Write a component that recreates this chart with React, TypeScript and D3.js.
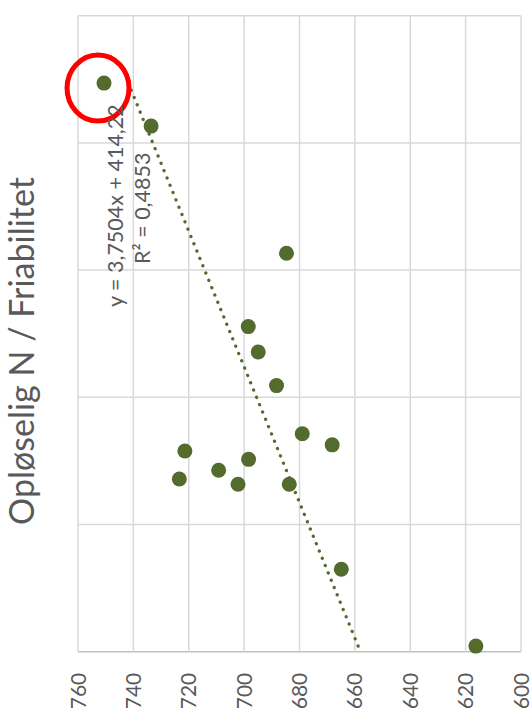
import React from "react";
import * as d3 from "d3";

const xValues = [87.35, 85.66, 80.66, 77.78, 76.78, 75.46, 72.89, 71.79, 72.13, 71.58, 72.56, 73.57, 73.13, 71.58, 68.24, 65.22];
const yValues = [750.6, 733.6, 684.7, 698.5, 694.9, 688.3, 721.4, 723.4, 709.2, 702.2, 698.4, 679.0, 668.2, 683.7, 664.9, 616.3];
const yTicks = [760, 740, 720, 700, 680, 660, 640, 620, 600];
const xGrid = [65, 70, 75, 80, 85, 90];
const slope = 3.7504;
const intercept = 414.22;
const equationLabel = "y = 3,7504x + 414,22";
const r2Label = "R² = 0,4853";
const title = "Opløselig N / Friabilitet";
const highlightIndex = 0;

const W = 532;
const H = 722;
const green = "#546B2E";
const grey = "#595959";
const font = "Lato, 'Open Sans', sans-serif";

export default function App() {
  // chart is drawn rotated: value axis runs horizontally (760 at left), x runs upward
  const vScale = d3.scaleLinear().domain([760, 600]).range([78, 521]);
  const xScale = d3.scaleLinear().domain([65, 90]).range([651.7, 15.7]);

  const pts = xValues.map((x, i) => ({ x, y: yValues[i] }));
  const [xmin, xmax] = d3.extent(xValues) as [number, number];
  const trend = [xmin, xmax].map((x) => ({ x, y: slope * x + intercept }));
  const line = d3
    .line<{ x: number; y: number }>()
    .x((d) => vScale(d.y))
    .y((d) => xScale(d.x));

  const hp = pts[highlightIndex];
  const top = xScale(90);
  const bottom = xScale(65);

  return (
    <svg
      width={W}
      height={H}
      style={{ position: "absolute", left: 0, top: 0, background: "#fff" }}
      fontFamily={font}
    >
      {xGrid.map((g) => (
        <line
          key={"h" + g}
          x1={vScale(760)}
          x2={vScale(600)}
          y1={xScale(g)}
          y2={xScale(g)}
          stroke={g === 65 ? "#bfbfbf" : "#d9d9d9"}
          strokeWidth={1.5}
        />
      ))}
      {yTicks.map((t) => (
        <line
          key={"v" + t}
          x1={vScale(t)}
          x2={vScale(t)}
          y1={top}
          y2={bottom}
          stroke="#d9d9d9"
          strokeWidth={1.5}
        />
      ))}
      {yTicks.map((t) => (
        <text
          key={"t" + t}
          transform={`translate(${vScale(t)},${bottom + 21}) rotate(-90)`}
          textAnchor="end"
          dy="0.36em"
          fontSize={21}
          fill={grey}
        >
          {t}
        </text>
      ))}
      <path
        d={line(trend) || ""}
        fill="none"
        stroke={green}
        strokeWidth={3.3}
        strokeLinecap="round"
        strokeDasharray="0.1 7.8"
      />
      {pts.map((p, i) => (
        <circle key={i} cx={vScale(p.y)} cy={xScale(p.x)} r={7.5} fill={green} />
      ))}
      <ellipse
        cx={vScale(hp.y) - 6}
        cy={xScale(hp.x) + 5}
        rx={31}
        ry={33}
        fill="none"
        stroke="#ff0000"
        strokeWidth={5}
      />
      <text
        transform={`translate(123,307) rotate(-90)`}
        fontSize={21.5}
        fill={grey}
      >
        {equationLabel}
      </text>
      <text
        transform={`translate(150,264) rotate(-90)`}
        fontSize={21.5}
        fill={grey}
      >
        {r2Label}
      </text>
      <text
        transform={`translate(34,351) rotate(-90)`}
        textAnchor="middle"
        fontSize={34}
        fill={grey}
      >
        {title}
      </text>
    </svg>
  );
}
